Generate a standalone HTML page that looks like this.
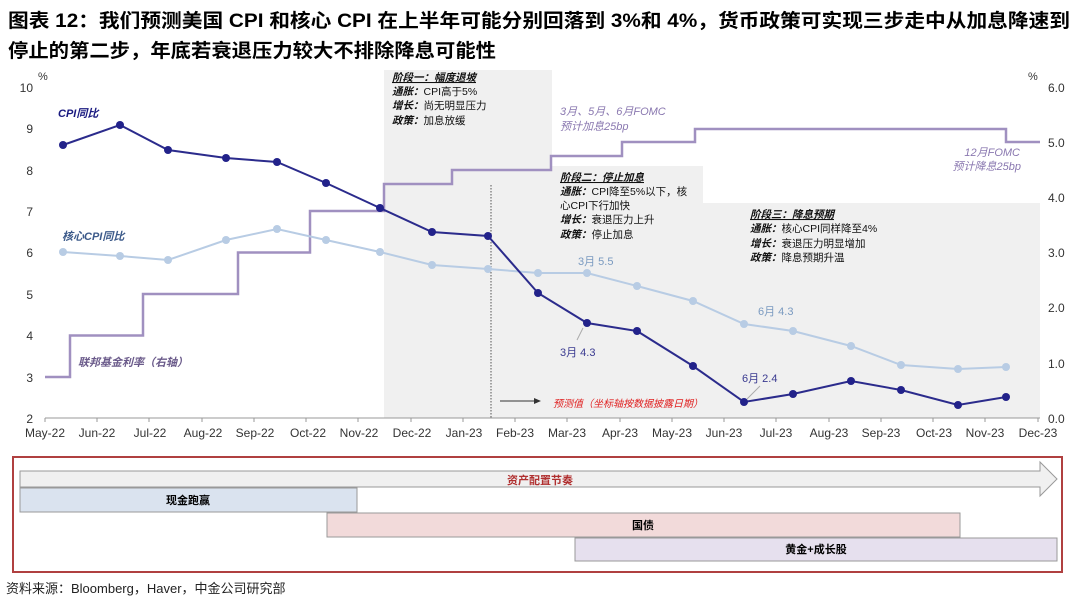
<!DOCTYPE html>
<html><head><meta charset="utf-8"><style>
body{margin:0;background:#fff;}
svg{display:block;font-family:"Liberation Sans","Noto Sans CJK SC",sans-serif;}
</style></head><body>
<svg width="1080" height="604" viewBox="0 0 1080 604" xmlns="http://www.w3.org/2000/svg">
<text x="8" y="27" font-size="19" font-weight="bold" textLength="1062" lengthAdjust="spacingAndGlyphs">图表 12：我们预测美国 CPI 和核心 CPI 在上半年可能分别回落到 3%和 4%，货币政策可实现三步走中从加息降速到</text>
<text x="8" y="57" font-size="19" font-weight="bold" textLength="488" lengthAdjust="spacingAndGlyphs">停止的第二步，年底若衰退压力较大不排除降息可能性</text>

<!-- shaded regions -->
<rect x="384" y="70" width="168" height="348" fill="#f0f0f0"/>
<rect x="552" y="166" width="151" height="252" fill="#f0f0f0"/>
<rect x="703" y="203" width="337" height="215" fill="#f0f0f0"/>
<line x1="491" y1="185" x2="491" y2="418" stroke="#555" stroke-width="1" stroke-dasharray="1.5,1.5"/>

<!-- axes -->
<g font-size="12" fill="#333">
<text x="38" y="80" font-size="11">%</text>
<text x="33" y="92" text-anchor="end">10</text>
<text x="33" y="133" text-anchor="end">9</text>
<text x="33" y="175" text-anchor="end">8</text>
<text x="33" y="216" text-anchor="end">7</text>
<text x="33" y="257" text-anchor="end">6</text>
<text x="33" y="299" text-anchor="end">5</text>
<text x="33" y="340" text-anchor="end">4</text>
<text x="33" y="382" text-anchor="end">3</text>
<text x="33" y="423" text-anchor="end">2</text>
<text x="1028" y="80" font-size="11">%</text>
<text x="1048" y="92">6.0</text>
<text x="1048" y="147">5.0</text>
<text x="1048" y="202">4.0</text>
<text x="1048" y="257">3.0</text>
<text x="1048" y="312">2.0</text>
<text x="1048" y="368">1.0</text>
<text x="1048" y="423">0.0</text>
</g>
<line x1="45" y1="418" x2="1040" y2="418" stroke="#999"/>
<g stroke="#999">
<line x1="45" y1="418" x2="45" y2="422"/><line x1="97" y1="418" x2="97" y2="422"/><line x1="149" y1="418" x2="149" y2="422"/><line x1="202" y1="418" x2="202" y2="422"/><line x1="254" y1="418" x2="254" y2="422"/><line x1="306" y1="418" x2="306" y2="422"/><line x1="358" y1="418" x2="358" y2="422"/><line x1="411" y1="418" x2="411" y2="422"/><line x1="463" y1="418" x2="463" y2="422"/><line x1="515" y1="418" x2="515" y2="422"/><line x1="567" y1="418" x2="567" y2="422"/><line x1="620" y1="418" x2="620" y2="422"/><line x1="672" y1="418" x2="672" y2="422"/><line x1="724" y1="418" x2="724" y2="422"/><line x1="776" y1="418" x2="776" y2="422"/><line x1="829" y1="418" x2="829" y2="422"/><line x1="881" y1="418" x2="881" y2="422"/><line x1="933" y1="418" x2="933" y2="422"/><line x1="985" y1="418" x2="985" y2="422"/><line x1="1038" y1="418" x2="1038" y2="422"/>
</g>
<g font-size="12" fill="#333" text-anchor="middle">
<text x="45" y="437">May-22</text><text x="97" y="437">Jun-22</text><text x="150" y="437">Jul-22</text><text x="203" y="437">Aug-22</text><text x="255" y="437">Sep-22</text><text x="308" y="437">Oct-22</text><text x="359" y="437">Nov-22</text><text x="412" y="437">Dec-22</text><text x="464" y="437">Jan-23</text><text x="515" y="437">Feb-23</text><text x="567" y="437">Mar-23</text><text x="620" y="437">Apr-23</text><text x="672" y="437">May-23</text><text x="724" y="437">Jun-23</text><text x="776" y="437">Jul-23</text><text x="829" y="437">Aug-23</text><text x="881" y="437">Sep-23</text><text x="934" y="437">Oct-23</text><text x="985" y="437">Nov-23</text><text x="1038" y="437">Dec-23</text>
</g>

<!-- fed funds -->
<polyline fill="none" stroke="#a090c0" stroke-width="2.5" points="45,377 70,377 70,335.5 143,335.5 143,294 238,294 238,252.5 310,252.5 310,211 384,211 384,184 452,184 452,170 551,170 551,156 622,156 622,142 695,142 695,129 1006,129 1006,142 1040,142"/>

<!-- core CPI -->
<polyline fill="none" stroke="#b8cce4" stroke-width="2" points="63,252 120,256 168,260 226,240 277,229 326,240 380,252 432,265 488,269 538,273 587,273 637,286 693,301 744,324 793,331 851,346 901,365 958,369 1006,367"/>
<g fill="#b8cce4">
<circle cx="63" cy="252" r="4"/><circle cx="120" cy="256" r="4"/><circle cx="168" cy="260" r="4"/><circle cx="226" cy="240" r="4"/><circle cx="277" cy="229" r="4"/><circle cx="326" cy="240" r="4"/><circle cx="380" cy="252" r="4"/><circle cx="432" cy="265" r="4"/><circle cx="488" cy="269" r="4"/><circle cx="538" cy="273" r="4"/><circle cx="587" cy="273" r="4"/><circle cx="637" cy="286" r="4"/><circle cx="693" cy="301" r="4"/><circle cx="744" cy="324" r="4"/><circle cx="793" cy="331" r="4"/><circle cx="851" cy="346" r="4"/><circle cx="901" cy="365" r="4"/><circle cx="958" cy="369" r="4"/><circle cx="1006" cy="367" r="4"/>
</g>

<!-- CPI -->
<polyline fill="none" stroke="#2b2b8c" stroke-width="2" points="63,145 120,125 168,150 226,158 277,162 326,183 380,208 432,232 488,236 538,293 587,323 637,331 693,366 744,402 793,394 851,381 901,390 958,405 1006,397"/>
<g fill="#22228a">
<circle cx="63" cy="145" r="4"/><circle cx="120" cy="125" r="4"/><circle cx="168" cy="150" r="4"/><circle cx="226" cy="158" r="4"/><circle cx="277" cy="162" r="4"/><circle cx="326" cy="183" r="4"/><circle cx="380" cy="208" r="4"/><circle cx="432" cy="232" r="4"/><circle cx="488" cy="236" r="4"/><circle cx="538" cy="293" r="4"/><circle cx="587" cy="323" r="4"/><circle cx="637" cy="331" r="4"/><circle cx="693" cy="366" r="4"/><circle cx="744" cy="402" r="4"/><circle cx="793" cy="394" r="4"/><circle cx="851" cy="381" r="4"/><circle cx="901" cy="390" r="4"/><circle cx="958" cy="405" r="4"/><circle cx="1006" cy="397" r="4"/>
</g>

<!-- series labels -->
<g font-size="11" font-weight="bold" font-style="italic">
<text x="58" y="117" fill="#1a1a80">CPI同比</text>
<text x="62" y="240" fill="#3c5a8a">核心CPI同比</text>
<text x="78" y="366" fill="#6a5a8a">联邦基金利率（右轴）</text>
</g>
<g font-size="11">
<text x="578" y="265" fill="#7a9ac0">3月 5.5</text>
<text x="560" y="356" fill="#3a3a90">3月 4.3</text>
<text x="758" y="315" fill="#7a9ac0">6月 4.3</text>
<text x="742" y="382" fill="#3a3a90">6月 2.4</text>
<line x1="747" y1="399" x2="760" y2="386" stroke="#aaa"/>
<line x1="577" y1="340" x2="583" y2="328" stroke="#aaa"/>
<text x="560" y="115" fill="#8a78b0" font-style="italic">3月、5月、6月FOMC</text>
<text x="560" y="130" fill="#8a78b0" font-style="italic">预计加息25bp</text>
<text x="1020" y="156" fill="#8a78b0" font-style="italic" text-anchor="end">12月FOMC</text>
<text x="1021" y="170" fill="#8a78b0" font-style="italic" text-anchor="end">预计降息25bp</text>
<text x="553" y="407" fill="#e02020" font-style="italic" font-size="10">预测值（坐标轴按数据披露日期）</text>
</g>
<line x1="500" y1="401" x2="538" y2="401" stroke="#333"/>
<polygon points="541,401 534,398 534,404" fill="#333"/>

<!-- stage texts -->
<g font-size="10.5" fill="#111">
<text x="392" y="81" font-weight="bold" font-style="italic" text-decoration="underline">阶段一：幅度退坡</text>
<text x="392" y="95"><tspan font-weight="bold" font-style="italic">通胀：</tspan>CPI高于5%</text>
<text x="392" y="109"><tspan font-weight="bold" font-style="italic">增长：</tspan>尚无明显压力</text>
<text x="392" y="124"><tspan font-weight="bold" font-style="italic">政策：</tspan>加息放缓</text>
<text x="560" y="181" font-weight="bold" font-style="italic" text-decoration="underline">阶段二：停止加息</text>
<text x="560" y="195"><tspan font-weight="bold" font-style="italic">通胀：</tspan>CPI降至5%以下，核</text>
<text x="560" y="209">心CPI下行加快</text>
<text x="560" y="223"><tspan font-weight="bold" font-style="italic">增长：</tspan>衰退压力上升</text>
<text x="560" y="238"><tspan font-weight="bold" font-style="italic">政策：</tspan>停止加息</text>
<text x="750" y="218" font-weight="bold" font-style="italic" text-decoration="underline">阶段三：降息预期</text>
<text x="750" y="232"><tspan font-weight="bold" font-style="italic">通胀：</tspan>核心CPI同样降至4%</text>
<text x="750" y="247"><tspan font-weight="bold" font-style="italic">增长：</tspan>衰退压力明显增加</text>
<text x="750" y="261"><tspan font-weight="bold" font-style="italic">政策：</tspan>降息预期升温</text>
</g>

<!-- bottom box -->
<rect x="13" y="457" width="1049" height="115" fill="none" stroke="#b04040" stroke-width="2"/>
<polygon points="20,471 1040,471 1040,462 1057,479 1040,496 1040,487 20,487" fill="#f0f0f0" stroke="#999"/>
<text x="540" y="484" font-size="11" font-weight="bold" fill="#b03030" text-anchor="middle">资产配置节奏</text>
<rect x="20" y="488" width="337" height="24" fill="#dae3ef" stroke="#999"/>
<text x="188" y="504" font-size="11" font-weight="bold" text-anchor="middle">现金跑赢</text>
<rect x="327" y="513" width="633" height="24" fill="#f2dada" stroke="#999"/>
<text x="643" y="529" font-size="11" font-weight="bold" text-anchor="middle">国债</text>
<rect x="575" y="538" width="482" height="23" fill="#e6e0ee" stroke="#999"/>
<text x="816" y="553" font-size="11" font-weight="bold" text-anchor="middle">黄金+成长股</text>

<text x="6" y="593" font-size="13" fill="#222">资料来源：Bloomberg，Haver，中金公司研究部</text>
</svg>
</body></html>
